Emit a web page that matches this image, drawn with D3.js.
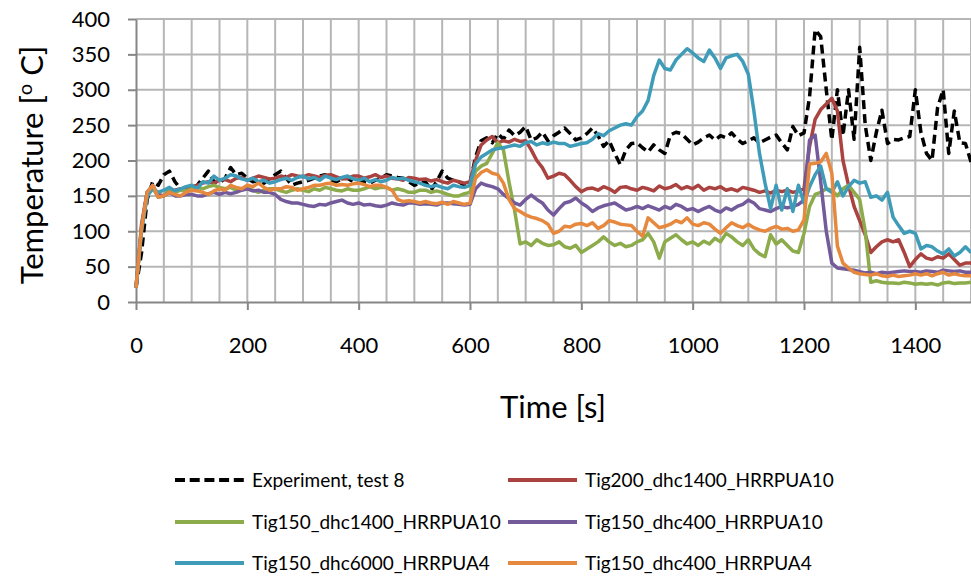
<!DOCTYPE html>
<html><head><meta charset="utf-8">
<script src="https://cdn.jsdelivr.net/npm/d3@7"></script>
<style>body{margin:0;background:#fff}svg{display:block;font-family:Lato,"Open Sans",sans-serif}</style>
</head><body><svg id="c" width="971" height="576"></svg>
<script>
const tStep = 10;
const xTicks = [0,200,400,600,800,1000,1200,1400];
const yTicks = [0,50,100,150,200,250,300,350,400];
const seriesNames = ["Experiment, test 8","Tig200_dhc1400_HRRPUA10","Tig150_dhc1400_HRRPUA10","Tig150_dhc400_HRRPUA10","Tig150_dhc6000_HRRPUA4","Tig150_dhc400_HRRPUA4"];
const experiment = [20,70,145,170,165,180,185,170,160,158,162,165,175,185,170,168,175,190,180,182,175,170,172,168,175,180,185,175,165,168,170,172,175,178,180,172,170,174,175,170,172,170,168,172,175,180,178,176,175,170,165,168,170,158,170,185,175,172,170,165,168,205,228,232,225,238,230,243,235,240,248,229,232,240,228,235,240,246,238,229,232,238,246,235,220,228,210,194,215,224,225,218,212,222,215,210,236,240,238,230,222,226,232,236,229,235,232,239,230,224,228,232,225,229,233,236,225,215,248,235,239,290,385,375,300,229,300,235,300,230,360,250,200,240,271,224,230,229,232,234,300,240,210,200,275,300,210,270,225,224,198];
const tig200_1400_10 = [20,110,155,160,152,150,155,158,160,160,162,165,168,170,168,172,173,170,175,176,172,175,178,176,174,175,178,176,180,178,177,180,178,176,179,180,177,174,175,178,178,175,177,180,176,178,175,174,172,176,175,173,174,171,173,170,168,172,170,168,170,200,222,229,234,225,228,226,230,227,228,215,200,190,175,178,182,180,172,163,156,160,161,158,163,160,155,162,163,160,158,162,160,157,164,160,162,166,160,163,160,165,158,162,160,163,158,160,157,162,160,158,155,157,154,158,156,158,155,157,160,220,258,272,280,288,270,200,165,135,115,95,70,78,85,88,85,88,70,50,60,68,62,60,64,62,68,60,52,55,55];
const tig150_1400_10 = [20,105,150,162,148,150,160,155,158,157,160,162,160,163,165,162,160,162,158,160,160,158,155,158,160,160,157,155,158,160,158,156,160,158,162,160,158,157,160,158,158,160,163,160,162,162,158,160,158,155,155,158,158,155,157,155,152,150,150,153,155,185,192,196,210,225,215,170,130,82,85,80,88,83,80,81,85,78,76,80,70,75,80,85,92,85,80,83,78,80,85,88,97,85,62,85,90,95,88,82,85,80,86,82,90,85,97,92,85,80,88,75,68,64,95,82,88,80,72,70,97,135,152,155,160,158,150,160,165,155,145,100,28,30,28,27,27,26,28,27,25,26,25,26,24,27,28,26,27,27,28];
const tig150_400_10 = [20,105,155,165,150,150,155,150,150,152,152,150,150,153,155,152,155,153,155,158,160,157,158,155,155,152,145,142,140,140,138,136,135,138,137,140,142,144,140,138,140,137,138,136,135,137,140,138,137,140,140,138,139,138,137,140,140,139,138,137,138,160,168,165,163,160,152,146,140,137,145,151,145,140,130,123,132,140,142,147,140,135,128,133,136,138,140,135,130,132,135,132,136,133,130,135,132,138,135,130,132,128,132,135,130,127,133,130,135,138,144,140,132,130,128,132,135,133,135,138,144,229,236,170,100,55,48,47,46,45,43,41,42,40,42,41,42,43,44,43,43,42,44,43,42,45,44,43,44,42,42];
const tig150_6000_4 = [20,100,150,160,155,158,162,157,160,163,165,160,170,168,178,172,175,180,178,174,172,175,170,172,168,170,173,175,172,176,178,174,176,172,178,175,173,176,178,174,172,175,170,173,170,172,176,174,175,172,170,168,165,163,165,162,160,165,163,162,165,195,205,210,215,217,218,220,222,220,225,227,222,225,223,226,224,224,220,222,224,225,230,238,235,242,246,250,252,250,262,270,285,320,342,330,328,342,350,358,352,345,340,356,345,330,345,348,350,340,322,270,210,168,132,165,130,160,128,165,140,163,180,192,160,155,170,150,163,172,168,170,148,150,144,155,120,108,97,100,97,75,80,78,72,68,75,65,70,78,70];
const tig150_400_4 = [20,105,155,165,148,150,155,152,150,155,158,157,155,152,157,160,158,165,162,160,165,163,168,162,158,160,160,163,162,158,160,162,165,165,167,168,165,166,165,167,168,166,163,165,165,162,158,145,142,143,142,140,142,140,139,141,138,142,140,138,140,175,183,187,182,180,168,145,132,128,123,120,118,115,110,97,100,107,106,110,111,108,112,104,108,115,113,110,109,108,100,93,119,112,105,107,110,115,112,119,110,108,112,110,103,97,105,112,108,105,110,105,102,100,104,107,103,104,100,102,116,195,196,198,210,182,79,55,48,42,40,39,38,40,37,36,38,36,37,38,40,38,40,37,40,42,38,40,38,37,37];
const seriesValues = [experiment,tig200_1400_10,tig150_1400_10,tig150_400_10,tig150_6000_4,tig150_400_4];
const colors = ["#000000","#AA4340","#8CAB4B","#735A9B","#3F9CB9","#E6883D"];

const svg = d3.select("#c");
const x = d3.scaleLinear().domain([0,1500]).range([136,971]);
const y = d3.scaleLinear().domain([0,400]).range([302,19]);

// grid
const g = svg.append("g");
g.selectAll("line.v").data(d3.range(50,1501,50)).join("line")
  .attr("x1",d=>x(d)).attr("x2",d=>x(d)).attr("y1",y(0)).attr("y2",y(400))
  .attr("stroke","#b6b6b6").attr("stroke-width",2);
g.selectAll("line.h").data(yTicks.slice(1)).join("line")
  .attr("x1",x(0)).attr("x2",x(1500)).attr("y1",d=>y(d)).attr("y2",d=>y(d))
  .attr("stroke","#b6b6b6").attr("stroke-width",2);

// axes
const ax = svg.append("g").attr("transform",`translate(0,${y(0)})`)
  .call(d3.axisBottom(x).tickValues(xTicks).tickFormat(d3.format("d")).tickSize(8).tickPadding(27).tickSizeOuter(0));
const ay = svg.append("g").attr("transform",`translate(${x(0)},0)`)
  .call(d3.axisLeft(y).tickValues(yTicks).tickFormat(d3.format("d")).tickSize(8).tickPadding(18).tickSizeOuter(0));
[ax,ay].forEach(a=>{
  a.select(".domain").attr("stroke","#868686").attr("stroke-width",2);
  a.selectAll(".tick line").attr("stroke","#868686").attr("stroke-width",2);
  a.selectAll(".tick text").attr("fill","#000").style("font-size","22px").style("font-family","Lato");
});

// lines
const line = d3.line().x((d,i)=>x(i*tStep)).y(d=>y(d));
seriesValues.forEach((vals,k)=>{
  svg.append("path").datum(vals).attr("d",line).attr("fill","none")
    .attr("stroke",colors[k]).attr("stroke-width",k===0?3.5:3.5).attr("stroke-linejoin","round")
    .attr("stroke-dasharray",k===0?"9,5":null);
});

// titles
svg.append("text").attr("x",553).attr("y",418).attr("text-anchor","middle")
  .style("font-size","31px").text("Time [s]");
const yt = svg.append("text").attr("transform","translate(43,165) rotate(-90)").attr("text-anchor","middle")
  .style("font-size","31px");
yt.append("tspan").text("Temperature [");
yt.append("tspan").attr("dy",-11).style("font-size","20px").text("o");
yt.append("tspan").attr("dy",11).text(" C]");

// legend
const legPos = [[175,480],[508,480],[175,522],[508,522],[175,563],[508,563]];
seriesNames.forEach((n,k)=>{
  const [lx,ly] = legPos[k];
  svg.append("line").attr("x1",lx).attr("x2",lx+69).attr("y1",ly).attr("y2",ly)
    .attr("stroke",colors[k]).attr("stroke-width",4)
    .attr("stroke-dasharray",k===0?"10,4.7":null);
  svg.append("text").attr("x",lx+77).attr("y",ly).attr("dy","0.35em")
    .style("font-size","19px").text(n);
});
</script></body></html>
